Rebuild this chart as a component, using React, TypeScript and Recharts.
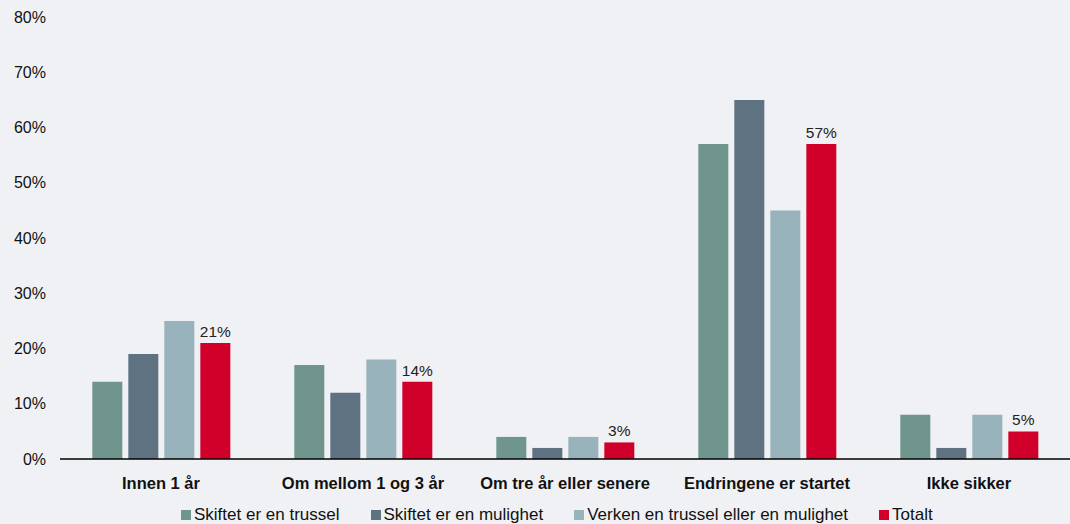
import { BarChart, Bar, XAxis, YAxis, LabelList } from 'recharts'

// kategorier og verdier (prosent)
const categories = ['Innen 1 år', 'Om mellom 1 og 3 år', 'Om tre år eller senere', 'Endringene er startet', 'Ikke sikker']
const trussel = [14, 17, 4, 57, 8]
const mulighet = [19, 12, 2, 65, 2]
const verken = [25, 18, 4, 45, 8]
const totalt = [21, 14, 3, 57, 5]
const yTicks = [0, 10, 20, 30, 40, 50, 60, 70, 80]

const seriesNames = ['Skiftet er en trussel', 'Skiftet er en mulighet', 'Verken en trussel eller en mulighet', 'Totalt']
const seriesKeys = ['trussel', 'mulighet', 'verken', 'totalt']
const colors = ['#6f958c', '#5f7282', '#98b3bb', '#d0002b']

const chartData = categories.map((name, i) => ({
  name,
  trussel: trussel[i],
  mulighet: mulighet[i],
  verken: verken[i],
  totalt: totalt[i],
}))

const sans = '"Liberation Sans", Arial, sans-serif'

export default function App() {
  return (
    <div style={{ position: 'absolute', left: 0, top: 0, width: 1070, height: 524, background: '#f0f1f4', fontFamily: sans }}>
      <BarChart
        width={1070}
        height={524}
        data={chartData}
        margin={{ top: 17, right: 0, left: 0, bottom: 29 }}
        barCategoryGap="16%"
        barGap={6}
      >
        <XAxis
          dataKey="name"
          axisLine={{ stroke: '#000', strokeWidth: 1.5 }}
          tickLine={false}
          tick={{ fill: '#111', fontSize: 16.5, fontWeight: 'bold', fontFamily: sans }}
          tickMargin={12}
          height={36}
          interval={0}
        />
        <YAxis
          domain={[0, 80]}
          ticks={yTicks}
          tickFormatter={(v: number) => `${v}%`}
          axisLine={false}
          tickLine={false}
          tickSize={0}
          tickMargin={14}
          width={60}
          tick={{ fill: '#111', fontSize: 16, fontFamily: sans }}
        />
        {seriesKeys.map((k, i) => (
          <Bar key={k} dataKey={k} name={seriesNames[i]} fill={colors[i]} isAnimationActive={false}>
            {k === 'totalt' && (
              <LabelList
                dataKey="totalt"
                position="top"
                offset={6}
                formatter={(v: number) => `${v}%`}
                style={{ fill: '#222', fontSize: 15.5, fontFamily: sans }}
              />
            )}
          </Bar>
        ))}
      </BarChart>
      <div
        style={{
          position: 'absolute',
          left: 181,
          top: 505,
          display: 'flex',
          gap: 31,
          fontSize: 17,
          lineHeight: '20px',
          color: '#111',
          whiteSpace: 'nowrap',
        }}
      >
        {seriesNames.map((n, i) => (
          <div key={n} style={{ display: 'flex', alignItems: 'center' }}>
            <span style={{ display: 'inline-block', width: 10, height: 10, background: colors[i], marginRight: 3 }} />
            <span>{n}</span>
          </div>
        ))}
      </div>
    </div>
  )
}
